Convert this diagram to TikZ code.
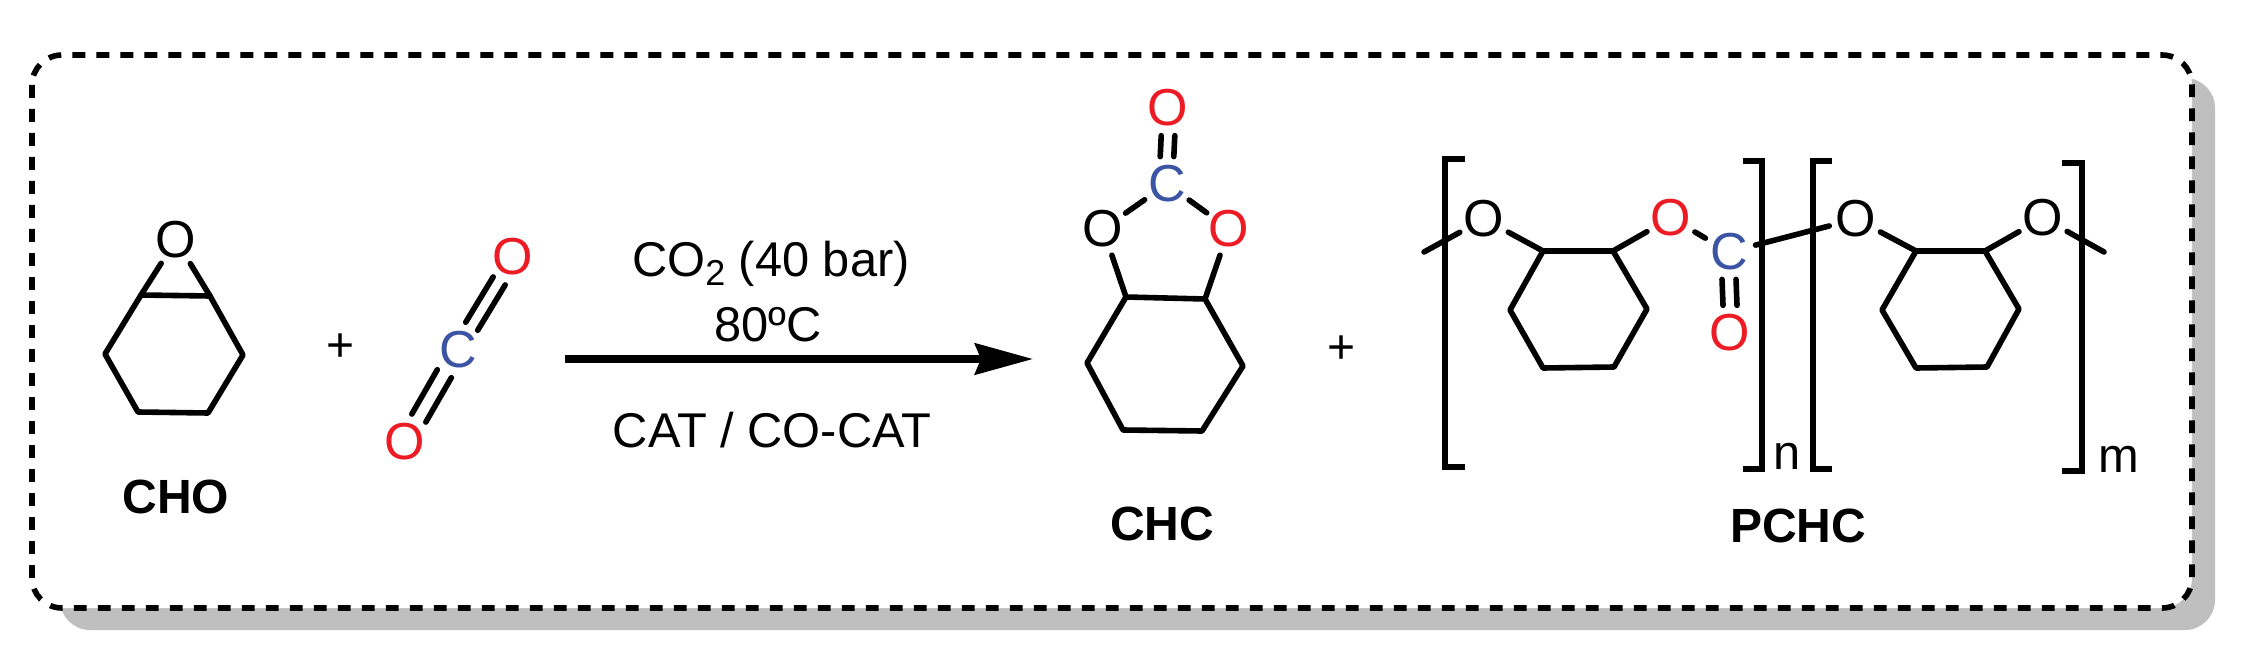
\documentclass[tikz,border=0pt]{standalone}
\usepackage{fontspec}
\setmainfont{Liberation Sans}
\usetikzlibrary{arrows.meta}

\definecolor{oxred}{HTML}{ED1C24}
\definecolor{carbblue}{HTML}{3B54A4}
\definecolor{shadowgray}{HTML}{BFBFBF}

\begin{document}
\begin{tikzpicture}[
  x=0.5pt, y=-0.5pt,
  atom/.style={circle, inner sep=0pt, minimum size=27pt, font=\fontsize{26}{26}\selectfont},
  redatom/.style={atom, text=oxred},
  blueatom/.style={atom, text=carbblue},
  bond/.style={line width=2.8pt, line cap=round, line join=round},
  bracket/.style={line width=2.7pt, line join=miter},
  cmpd/.style={anchor=base, font=\fontsize{24}{24}\selectfont\bfseries},
  cond/.style={anchor=base, font=\fontsize{24.4}{24.4}\selectfont},
  plus/.style={inner sep=0pt, font=\fontsize{24}{24}\selectfont},
  frame/.style={line width=2.8pt, dash pattern=on 6.4pt off 5.6pt, fill=white, rounded corners=15pt},
  reaction/.style={line width=3.6pt, -{Stealth[length=29pt, width=15.5pt, inset=3pt]}}
]
\useasboundingbox (0,0) rectangle (2246,652);

% Panel
\fill[shadowgray, rounded corners=15pt] (60,78) rectangle (2215,630);
\draw[frame] (32,55) rectangle (2192,608);

% CHO
\node[atom] (cho_o) at (176,240) {O};
\coordinate (cho1) at (141,295);
\coordinate (cho2) at (210,296);
\coordinate (cho3) at (243,355);
\coordinate (cho4) at (208,413);
\coordinate (cho5) at (138,412);
\coordinate (cho6) at (105,354);
\draw[bond] (cho1) -- (cho2) -- (cho3) -- (cho4) -- (cho5) -- (cho6) -- cycle;
\draw[bond] (cho1) -- (cho_o);
\draw[bond] (cho2) -- (cho_o);
\node[cmpd] (cho_name) at (176,513) {CHO};

\node[plus] (plus_a) at (341,348) {+};

% CO2
\node[redatom] (co2_ot) at (513,257) {O};
\node[blueatom] (co2_c) at (458,350) {C};
\node[redatom] (co2_ob) at (405,442) {O};
\draw[bond] ([shift={(-6,-4)}]co2_c.60) -- ([shift={(-6,-4)}]co2_ot.240);
\draw[bond] ([shift={(6,4)}]co2_c.60) -- ([shift={(6,4)}]co2_ot.240);
\draw[bond] ([shift={(-7,-4)}]co2_c.240) -- ([shift={(-7,-4)}]co2_ob.60);
\draw[bond] ([shift={(7,4)}]co2_c.240) -- ([shift={(7,4)}]co2_ob.60);

% Arrow and conditions
\coordinate (arrow_a) at (565,359);
\coordinate (arrow_b) at (1033,359);
\draw[reaction] (arrow_a) -- (arrow_b);
\node[cond] (cond_co2) at (771,276) {CO\raisebox{-5pt}{\fontsize{18}{18}\selectfont 2} (40 bar)};
\node[cond] (cond_temp) at (768,341) {80ºC};
\node[cond] (cond_cat) at (772,447) {CAT / CO-CAT};

% CHC
\node[redatom] (chc_ot) at (1168,108) {O};
\node[blueatom] (chc_c) at (1167,184) {C};
\node[atom] (chc_ol) at (1103,229) {O};
\node[redatom] (chc_or) at (1229,229) {O};
\coordinate (chc1) at (1126,297);
\coordinate (chc2) at (1205,299);
\coordinate (chc3) at (1243,366);
\coordinate (chc4) at (1202,431);
\coordinate (chc5) at (1123,430);
\coordinate (chc6) at (1087,363);
\draw[bond] (chc1) -- (chc2) -- (chc3) -- (chc4) -- (chc5) -- (chc6) -- cycle;
\draw[bond] (chc1) -- (chc_ol);
\draw[bond] (chc2) -- (chc_or);
\draw[bond] (chc_c) -- (chc_ol);
\draw[bond] (chc_c) -- (chc_or);
\draw[bond] ([xshift=-3.4pt]chc_c.north) -- ([xshift=-3.4pt]chc_ot.south);
\draw[bond] ([xshift=3.4pt]chc_c.north) -- ([xshift=3.4pt]chc_ot.south);
\node[cmpd] (chc_name) at (1162,540) {CHC};

\node[plus] (plus_b) at (1341,350) {+};

% PCHC
\node[atom] (pc_oa) at (1484,219) {O};
\node[redatom] (pc_ob) at (1671,218) {O};
\node[blueatom] (pc_c) at (1729,252) {C};
\node[redatom] (pc_oc) at (1730,333) {O};
\node[atom] (pc_od) at (1856,219) {O};
\node[atom] (pc_oe) at (2043,218) {O};
\coordinate (pc_tail_a) at (1424,252);
\coordinate (pc_tail_b) at (2104,252);
\coordinate (rga1) at (1543,251);
\coordinate (rga2) at (1613,251);
\coordinate (rga3) at (1647,309);
\coordinate (rga4) at (1614,367);
\coordinate (rga5) at (1543,368);
\coordinate (rga6) at (1510,310);
\coordinate (rgb1) at (1916,251);
\coordinate (rgb2) at (1985,251);
\coordinate (rgb3) at (2019,309);
\coordinate (rgb4) at (1987,367);
\coordinate (rgb5) at (1916,368);
\coordinate (rgb6) at (1882,310);
\draw[bond] (rga1) -- (rga2) -- (rga3) -- (rga4) -- (rga5) -- (rga6) -- cycle;
\draw[bond] (rgb1) -- (rgb2) -- (rgb3) -- (rgb4) -- (rgb5) -- (rgb6) -- cycle;
\draw[bond] (pc_tail_a) -- (pc_oa);
\draw[bond] (pc_oa) -- (rga1);
\draw[bond] (rga2) -- (pc_ob);
\draw[bond] (pc_ob) -- (pc_c);
\draw[bond] (pc_c) -- (pc_od);
\draw[bond] (pc_od) -- (rgb1);
\draw[bond] (rgb2) -- (pc_oe);
\draw[bond] (pc_oe) -- (pc_tail_b);
\draw[bond] ([xshift=-3.5pt]pc_c.south) -- ([xshift=-3.5pt]pc_oc.north);
\draw[bond] ([xshift=3.5pt]pc_c.south) -- ([xshift=3.5pt]pc_oc.north);
\draw[bracket] (1465,159) -- (1445,159) -- (1445,467) -- (1465,467);
\draw[bracket] (1743,161) -- (1762,161) -- (1762,469) -- (1743,469);
\draw[bracket] (1832,161) -- (1813,161) -- (1813,469) -- (1832,469);
\draw[bracket] (2062,163) -- (2082,163) -- (2082,471) -- (2062,471);
\node[cond, anchor=base west] (sub_n) at (1766,469) {n};
\node[cond, anchor=base west] (sub_m) at (2091,472) {m};
\node[cmpd] (pchc_name) at (1798,542) {PCHC};

\end{tikzpicture}
\end{document}
